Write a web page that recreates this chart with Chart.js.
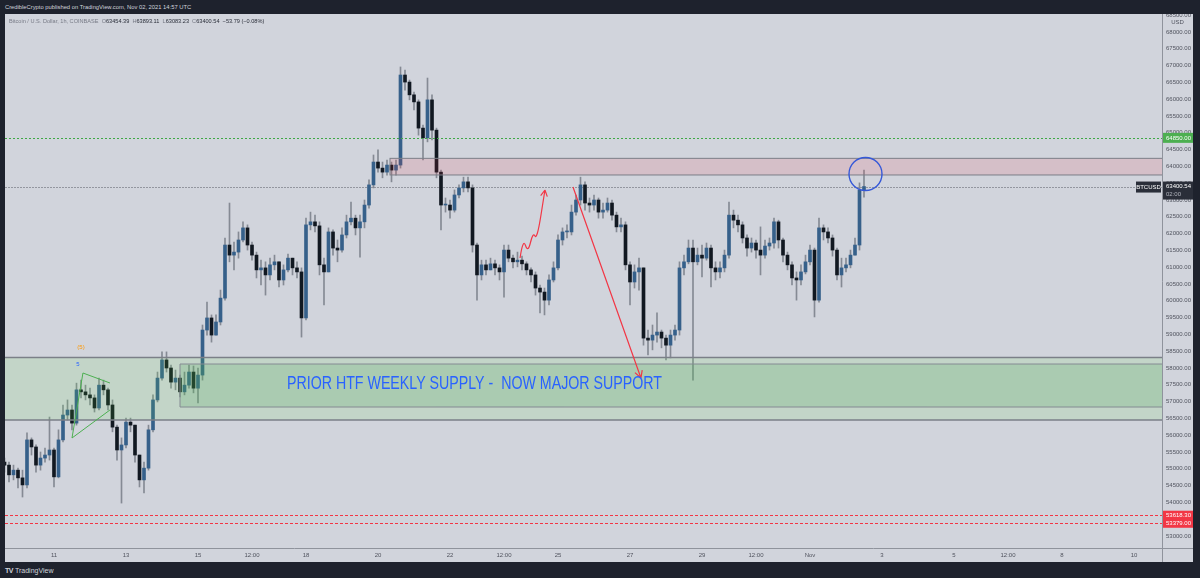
<!DOCTYPE html>
<html><head><meta charset="utf-8">
<script src="https://cdn.jsdelivr.net/npm/chart.js@4.4.0/dist/chart.umd.min.js"></script>
<style>
html,body{margin:0;padding:0;background:#1e222d;width:1200px;height:578px;overflow:hidden;font-family:"Liberation Sans",Arial,sans-serif;}
#hdr{position:absolute;left:5px;top:3px;font-size:5.8px;line-height:8px;color:#d1d4dc;white-space:nowrap;}
#wrap{position:absolute;left:5px;top:14px;width:1188px;height:548px;background:#d1d4dc;}
#legend{position:absolute;left:9px;top:17px;font-size:5.6px;line-height:8px;color:#787b86;white-space:nowrap;}
#legend span{color:#2a2e39;}
#foot{position:absolute;left:5px;top:566px;font-size:7px;line-height:9px;color:#d1d4dc;white-space:nowrap;}
#foot b{font-weight:900;letter-spacing:-0.5px;margin-right:2px;}
</style></head>
<body>
<div id="hdr">CredibleCrypto published on TradingView.com, Nov 02, 2021 14:57 UTC</div>
<div id="wrap"><canvas id="c" width="1188" height="548"></canvas></div>
<div id="legend">Bitcoin / U.S. Dollar, 1h, COINBASE&nbsp;&nbsp;O<span>63454.39</span>&nbsp;&nbsp;H<span>63893.11</span>&nbsp;&nbsp;L<span>63083.23</span>&nbsp;&nbsp;C<span>63400.54</span>&nbsp;&nbsp;<span>−53.79 (−0.08%)</span></div>
<div id="foot"><b>TV</b>TradingView</div>
<script>
// ---- data (3-hour candles, hours counted from Oct 11 00:00 UTC) ----
const START_HOUR = -33;
const STEP_HOURS = 3;
const firstOpen = 55200;
const closes = [
55110,54820,54960,54730,54520,55860,55650,55110,55320,55410,
55560,54760,55860,56600,56750,56360,57350,57290,57200,57110,
56810,57490,57350,56900,56240,55560,55710,56390,56300,55410,
54670,55020,56160,57050,57700,58240,58000,57580,57700,57290,
57490,57880,57400,57790,59130,59490,58980,59370,60080,61660,
61360,61450,61810,62170,61660,61360,60920,60980,60770,61070,
61160,60620,60920,61270,60980,60860,59490,62260,62350,62230,
61070,60860,62050,61570,61510,61960,62350,62460,62170,62350,
62850,63450,64130,63950,63830,64040,63890,64040,66720,66510,
66130,65920,65140,64850,65980,65080,63830,62850,62850,62700,
63150,63360,63540,63360,61660,60770,61070,60920,61100,60980,
60860,61510,61270,61160,61210,61100,60920,60770,60380,60260,
60020,60620,60980,61810,62050,62050,62640,63000,63450,62910,
62850,63000,62640,62700,62910,62550,62200,62260,61070,60560,
60860,60980,58890,58830,58980,59070,58890,58680,58980,59130,
60980,61160,61570,61160,61360,61270,61570,60980,60860,60980,
61360,62550,62400,62260,61870,61570,61720,61510,61360,61630,
61720,62350,61810,61360,61070,60680,60620,60860,61160,61510,
60020,62170,62050,61870,61510,60770,60980,61070,61360,61660,
63300,63400.54];
const highs = [
55320,55200,55110,55020,54960,56070,55920,55710,55500,55620,
56540,55620,56160,56900,57050,56900,57550,57640,57490,57400,
57200,57700,57640,57400,57050,56300,55920,56510,56510,56300,
55410,55200,56300,57200,57880,58480,58480,58090,57940,57790,
57880,58090,58060,58000,59280,59960,59580,59580,60320,61870,
62910,61750,62050,62350,62260,61750,61450,61210,61160,61270,
61360,61160,61070,61390,61270,61160,60980,62460,62640,62550,
62350,61270,62170,62110,61810,62170,62550,62940,62550,62550,
63000,63600,64340,64490,64130,64190,64130,64190,66960,66870,
66570,66210,65980,65230,66630,66130,65140,63890,63060,63000,
63300,63450,63680,63680,63450,61720,61210,61210,61270,61210,
61070,61660,61660,61360,61450,61330,61160,60980,60860,60470,
60380,60770,61160,61960,62170,62260,62850,63150,63680,63540,
63060,63150,63060,62910,63060,63000,62640,62460,62350,61160,
61070,61270,60980,59130,59280,59640,59130,58980,59130,59280,
61160,61360,61810,61810,61570,61660,61720,61660,61160,61160,
61510,62940,62700,62550,62350,61960,61870,61810,62200,61810,
61870,62460,62400,61870,61450,61160,60860,61070,61360,61660,
61570,62460,62260,62170,61960,61570,61270,61270,61510,61870,
63510,63893.11];
const lows = [
54900,54610,54670,54430,54160,54430,55410,54900,54960,55200,
55260,54460,54730,55800,56450,56160,56300,57110,57050,56900,
56690,56750,57200,56750,56100,55260,53980,55620,56100,55200,
54460,54280,54960,56100,56990,57640,57880,57400,57350,57140,
57200,57400,57260,56960,57640,58980,58770,58980,59280,60020,
61160,60920,61270,61750,61510,61210,60680,60470,60170,60620,
60920,60410,60470,60860,60770,60680,58920,59430,62110,62050,
60770,59880,60860,61360,61160,61450,61870,62260,61960,61300,
62170,62760,63360,63830,63660,63740,63540,63740,63950,66270,
65980,65680,64930,64190,64730,64790,63660,62110,62640,62460,
62640,63060,63240,63240,61450,60020,60620,60770,60920,60770,
60620,60110,61160,60980,61010,60920,60770,60560,60170,59640,
59580,59880,60560,60920,61660,61870,61960,62550,62850,62700,
62640,62700,62460,62460,62640,62400,62050,62050,60920,59880,
60380,60320,58680,58390,58540,58770,58600,58240,58300,58830,
58980,60770,61100,57640,61070,60710,61210,60410,60620,60680,
60860,61270,62170,62050,61720,61330,61450,61270,60770,61270,
61510,61570,61570,61160,60920,60470,60020,60470,60800,61070,
59520,59960,61810,61720,61330,60620,60410,60860,60980,61360,
61510,63083.23];

const priceTicks = [53000,53500,54000,54500,55000,55500,56000,56500,57000,57500,58000,58500,59000,59500,60000,60500,61000,61500,62000,62500,63000,63500,64000,64500,65000,65500,66000,66500,67000,67500,68000,68500];
const timeTickHours  = [0,48,96,132,168,216,264,300,336,384,432,468,504,552,600,636,672,720];
const timeTickLabels = ['11','13','15','12:00','18','20','22','12:00','25','27','29','12:00','Nov','3','5','12:00','8','10'];

// levels and zones (price units / hour units)
const resistanceLevel = 64850.00;
const supportLevels = [53618.30, 53379.00];
const lastPrice = 63400.54;
const supportOuter = [58312, 56452];   // top, bottom
const supportInner = [58119, 56839];
const supportInnerStart = 84;
const supplyZone = [64240, 63745];
const supplyStart = 224;
const projectionPath = [[310.7,61274],[312.7,61869],[316,61423],[319.3,62048],[322,61810],[327.3,63298]];
const dropArrow = [[346,63387],[391.3,57703]];
const triangleA = [19.3,57851], triangleB = [37.3,57554], triangleC = [12,55917], triangleD = [37.3,56750];
const waveLabelOuter = [18,58625], waveLabelInner = [16,58119];
const circleCenter = [541,63774];
const zoneText = 'PRIOR HTF WEEKLY SUPPLY -  NOW MAJOR SUPPORT';
const zoneTextPos = [155.3, 57523];

const X_MIN = -32.667, X_MAX = 738.667, Y_MIN = 52643, Y_MAX = 68536;
const UP = '#36608a', DOWN = '#111821', WICK = '#858a94';
const FONT = '"Liberation Sans", Arial, sans-serif';

const opens = closes.map((c,i)=> i===0 ? firstOpen : closes[i-1]);
const hours = closes.map((_,i)=> START_HOUR + i*STEP_HOURS);
const bodyData = hours.map((t,i)=>({x:t, y:[opens[i], closes[i]]}));
const wickData = hours.map((t,i)=>({x:t, y:[lows[i], highs[i]]}));
const bodyColors = closes.map((c,i)=> c >= opens[i] ? UP : DOWN);

function hline(ctx, a, yy, color, dash, w){
  ctx.save(); ctx.strokeStyle=color; ctx.lineWidth=w||1; ctx.setLineDash(dash||[]);
  ctx.beginPath(); ctx.moveTo(a.left, Math.round(yy)+0.5); ctx.lineTo(a.right, Math.round(yy)+0.5); ctx.stroke(); ctx.restore();
}
function dotLine(ctx, a, yy, color, on, off){
  ctx.save(); ctx.fillStyle=color; const r=Math.round(yy);
  for(let xx=a.left; xx<a.right; xx+=on+off) ctx.fillRect(xx, r, on, 1);
  ctx.restore();
}
function head(ctx, x1,y1,x2,y2,len){
  const ang=Math.atan2(y2-y1,x2-x1);
  ctx.moveTo(x2,y2); ctx.lineTo(x2-len*Math.cos(ang-0.5), y2-len*Math.sin(ang-0.5));
  ctx.moveTo(x2,y2); ctx.lineTo(x2-len*Math.cos(ang+0.5), y2-len*Math.sin(ang+0.5));
}
function axisBox(ctx, a, w, yy, h, bg, text){
  ctx.fillStyle=bg; ctx.fillRect(a.right+1, yy-h/2, w-a.right-1, h);
  ctx.textBaseline='middle'; ctx.textAlign='left';
  ctx.fillStyle='#ffffff'; ctx.font='6px '+FONT; ctx.fillText(text, a.right+4, yy+0.5);
}

const overlay = {
  id:'overlay',
  beforeDatasetsDraw(chart){
    const {ctx, chartArea:a, scales:{x,y}} = chart;
    hline(ctx, a, y.getPixelForValue(lastPrice), 'rgba(140,143,152,0.9)', [2,1], 1);
  },
  afterDatasetsDraw(chart){
    const {ctx, chartArea:a, scales:{x,y}} = chart;
    const X=v=>x.getPixelForValue(v), Y=v=>y.getPixelForValue(v);
    ctx.save();
    ctx.beginPath(); ctx.rect(a.left,a.top,a.right-a.left,a.bottom-a.top); ctx.clip();
    // support zones
    let t=Y(supportOuter[0]), b=Y(supportOuter[1]);
    ctx.fillStyle='rgba(100,225,70,0.13)'; ctx.fillRect(a.left,t,a.right-a.left,b-t);
    const it=Y(supportInner[0]), ib=Y(supportInner[1]), ix=X(supportInnerStart);
    ctx.fillStyle='rgba(70,160,85,0.2)'; ctx.fillRect(ix,it,a.right-ix,ib-it);
    ctx.strokeStyle='#7b7f88'; ctx.lineWidth=1.3;
    ctx.beginPath();
    ctx.moveTo(a.left,t); ctx.lineTo(a.right,t);
    ctx.moveTo(a.left,b); ctx.lineTo(a.right,b);
    ctx.stroke();
    ctx.lineWidth=1; ctx.strokeStyle='#858a92';
    ctx.beginPath(); ctx.moveTo(ix,ib); ctx.lineTo(ix,it); ctx.lineTo(a.right,it); ctx.moveTo(ix,ib); ctx.lineTo(a.right,ib); ctx.stroke();
    // supply zone
    const st=Y(supplyZone[0]), sb=Y(supplyZone[1]), sx=X(supplyStart);
    ctx.fillStyle='rgba(242,54,69,0.13)'; ctx.fillRect(sx,st,a.right-sx,sb-st);
    ctx.strokeStyle='#7b7f88'; ctx.lineWidth=1;
    ctx.strokeRect(sx,st,a.right-sx+2,sb-st);
    // dotted levels
    dotLine(ctx, a, Y(resistanceLevel), '#3fa845', 2, 2);
    supportLevels.forEach(p=>dotLine(ctx, a, Y(p), '#f23645', 3, 2));
    // triangle pattern
    ctx.strokeStyle='#4caf50'; ctx.lineWidth=1; ctx.setLineDash([]);
    ctx.beginPath();
    ctx.moveTo(X(triangleA[0]),Y(triangleA[1])); ctx.lineTo(X(triangleB[0]),Y(triangleB[1]));
    ctx.moveTo(X(triangleC[0]),Y(triangleC[1])); ctx.lineTo(X(triangleD[0]),Y(triangleD[1]));
    ctx.moveTo(X(triangleA[0]),Y(triangleA[1])); ctx.lineTo(X(triangleC[0]),Y(triangleC[1]));
    ctx.stroke();
    ctx.font='6px '+FONT; ctx.textAlign='center'; ctx.textBaseline='middle';
    ctx.fillStyle='#ff9800'; ctx.fillText('(5)', X(waveLabelOuter[0]), Y(waveLabelOuter[1]));
    ctx.fillStyle='#2962ff'; ctx.fillText('5', X(waveLabelInner[0]), Y(waveLabelInner[1]));
    // projection path
    ctx.strokeStyle='#f23645'; ctx.lineWidth=1.2;
    const pts=projectionPath.map(p=>[X(p[0]),Y(p[1])]);
    ctx.beginPath(); ctx.moveTo(pts[0][0],pts[0][1]);
    for(let i=1;i<pts.length-2;i++){ const mx=(pts[i][0]+pts[i+1][0])/2, my=(pts[i][1]+pts[i+1][1])/2; ctx.quadraticCurveTo(pts[i][0],pts[i][1],mx,my); }
    const n=pts.length;
    ctx.quadraticCurveTo(pts[n-2][0],pts[n-2][1],(pts[n-2][0]+pts[n-1][0])/2,(pts[n-2][1]+pts[n-1][1])/2);
    ctx.lineTo(pts[n-1][0],pts[n-1][1]);
    head(ctx, pts[n-2][0],pts[n-2][1],pts[n-1][0],pts[n-1][1],7);
    ctx.stroke();
    // drop arrow
    const d0=[X(dropArrow[0][0]),Y(dropArrow[0][1])], d1=[X(dropArrow[1][0]),Y(dropArrow[1][1])];
    ctx.beginPath(); ctx.moveTo(d0[0],d0[1]); ctx.lineTo(d1[0],d1[1]); head(ctx,d0[0],d0[1],d1[0],d1[1],8); ctx.stroke();
    // circle
    ctx.strokeStyle='#3558d8'; ctx.lineWidth=1.4;
    ctx.beginPath(); ctx.arc(X(circleCenter[0]),Y(circleCenter[1]),16.5,0,Math.PI*2); ctx.stroke();
    // zone text
    ctx.fillStyle='#2962ff'; ctx.textAlign='left'; ctx.textBaseline='middle';
    ctx.font='19px '+FONT;
    const w=ctx.measureText(zoneText).width, sc=375/w;
    ctx.save(); ctx.translate(X(zoneTextPos[0]),Y(zoneTextPos[1])); ctx.scale(sc,1); ctx.fillText(zoneText,0,0); ctx.restore();
    ctx.restore();
  },
  afterDraw(chart){
    const {ctx, chartArea:a, scales:{x,y}, width, height} = chart;
    const Y=v=>y.getPixelForValue(v);
    ctx.save();
    ctx.strokeStyle='#8f939c'; ctx.lineWidth=1;
    ctx.beginPath(); ctx.moveTo(a.right,a.bottom+0.5); ctx.lineTo(width,a.bottom+0.5);
    ctx.moveTo(a.right+0.5,a.bottom); ctx.lineTo(a.right+0.5,height); ctx.stroke();
    // USD header on axis
    ctx.fillStyle='#d1d4dc'; ctx.fillRect(a.right+1,4,width-a.right-1,9);
    ctx.fillStyle='#50535e'; ctx.font='6px '+FONT; ctx.textAlign='center'; ctx.textBaseline='middle';
    ctx.fillText('USD', (a.right+width)/2, 8.5);
    axisBox(ctx, a, width, Y(resistanceLevel), 10, '#4caf50', resistanceLevel.toFixed(2));
    const ly=Y(lastPrice);
    ctx.fillStyle='#2a2e39'; ctx.fillRect(a.right+1, ly-5, width-a.right-1, 18);
    ctx.font='6px '+FONT; ctx.textAlign='left'; ctx.textBaseline='middle';
    ctx.fillStyle='#ffffff'; ctx.fillText(lastPrice.toFixed(2), a.right+4, ly);
    ctx.fillStyle='#b2b5be'; ctx.fillText('02:00', a.right+4, ly+8);
    ctx.fillStyle='#2a2e39'; ctx.fillRect(a.right-26, ly-5, 25, 11);
    ctx.fillStyle='#ffffff'; ctx.textAlign='center'; ctx.fillText('BTCUSD', a.right-13.5, ly+0.5);
    supportLevels.forEach(p=>axisBox(ctx, a, width, Y(p), 9, '#f23645', p.toFixed(2)));
    ctx.restore();
  }
};

new Chart(document.getElementById('c'), {
  type:'bar',
  data:{datasets:[
    {label:'body', data:bodyData, backgroundColor:bodyColors, borderWidth:0, barThickness:3, grouped:false, order:0, minBarLength:1},
    {label:'wick', data:wickData, backgroundColor:WICK, borderWidth:0, barThickness:1, grouped:false, order:1}
  ]},
  options:{
    responsive:false, animation:false, devicePixelRatio:1,
    layout:{padding:0},
    plugins:{legend:{display:false}, tooltip:{enabled:false}},
    scales:{
      x:{type:'linear', position:'bottom', min:X_MIN, max:X_MAX, offset:false,
         grid:{display:false, drawTicks:false, offset:false},
         border:{display:true, color:'#8f939c', width:1},
         afterBuildTicks:s=>{ s.ticks = timeTickHours.map(v=>({value:v})); },
         afterFit:s=>{ s.height = 14; s.paddingLeft = 0; s.paddingRight = 0; },
         ticks:{autoSkip:false, maxRotation:0, padding:4, color:'#50535e', font:{family:FONT,size:6},
                callback:(v,i)=>timeTickLabels[i]}},
      y:{type:'linear', position:'right', min:Y_MIN, max:Y_MAX,
         grid:{display:false, drawTicks:false},
         border:{display:true, color:'#8f939c', width:1},
         afterBuildTicks:s=>{ s.ticks = priceTicks.map(v=>({value:v})); },
         afterFit:s=>{ s.width = 31; s.paddingTop = 0; s.paddingBottom = 0; },
         ticks:{autoSkip:false, padding:4, color:'#50535e', font:{family:FONT,size:6},
                callback:v=>Number(v).toFixed(2)}}
    }
  },
  plugins:[overlay]
});
</script>
</body></html>
